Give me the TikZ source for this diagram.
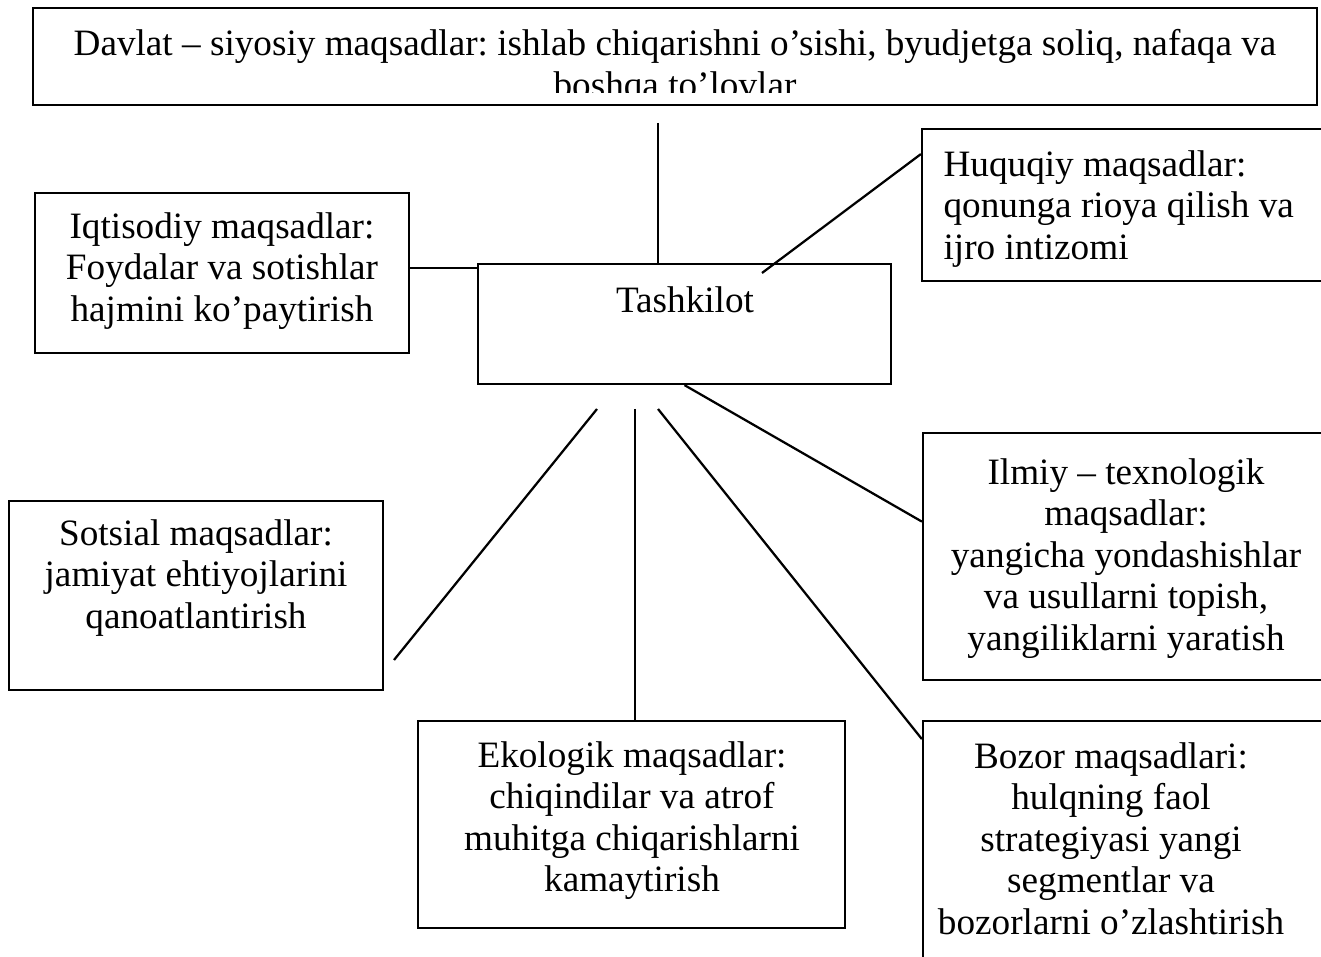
\documentclass[tikz,border=0pt]{standalone}
\usepackage{fontspec}
\setmainfont{Liberation Serif}
\usetikzlibrary{fit,calc}
\frenchspacing

\tikzset{
  goal/.style={draw, line width=0.75pt, inner sep=0pt},
  goaltext/.style={inner sep=0pt, align=center, anchor=north},
  link/.style={line width=0.75pt}
}

\begin{document}
\begin{tikzpicture}[x=0.3333pt, y=-0.3333pt, font=\fontsize{12.4}{13.8}\selectfont]
    % Page frame
    \useasboundingbox (0,0) rectangle (1321,957);
    \clip (0,0) rectangle (1321,957);

    % Boxes
    \node[goal, fit={(33,8) (1317,105)}] (davlat) {};
    \node[goal, fit={(35,193) (409,353)}] (iqt) {};
    \node[goal, fit={(922,129) (1340,281)}] (huq) {};
    \node[goal, fit={(478,264) (891,384)}] (tash) {};
    \node[goal, fit={(923,433) (1340,680)}] (ilm) {};
    \node[goal, fit={(9,501) (383,690)}] (sots) {};
    \node[goal, fit={(418,721) (845,928)}] (ekol) {};
    \node[goal, fit={(923,721) (1340,975)}] (boz) {};

    % Texts (second line of the top box is cut by its frame)
    \begin{scope}
        \clip (33,8) rectangle (1317,93);
        \node[goaltext] (davlat-t) at (675,29) {Davlat – siyosiy maqsadlar: ishlab chiqarishni o’sishi, byudjetga soliq, nafaqa va\\boshqa to’lovlar};
    \end{scope}
    \node[goaltext] (iqt-t) at (222,212) {Iqtisodiy maqsadlar:\\Foydalar va sotishlar\\hajmini ko’paytirish};
    \node[goaltext, anchor=north west, align=left] (huq-t) at (943,150) {Huquqiy maqsadlar:\\qonunga rioya qilish va\\ijro intizomi};
    \node[goaltext] (tash-t) at (685,286) {Tashkilot};
    \node[goaltext] (ilm-t) at (1126,458) {Ilmiy – texnologik\\maqsadlar:\\yangicha yondashishlar\\va usullarni topish,\\yangiliklarni yaratish};
    \node[goaltext] (sots-t) at (196,519) {Sotsial maqsadlar:\\jamiyat ehtiyojlarini\\qanoatlantirish};
    \node[goaltext] (ekol-t) at (632,741) {Ekologik maqsadlar:\\chiqindilar va atrof\\muhitga chiqarishlarni\\kamaytirish};
    \node[goaltext] (boz-t) at (1111,742) {Bozor maqsadlari:\\hulqning faol\\strategiyasi yangi\\segmentlar va\\bozorlarni o’zlashtirish};

    % Links
    \coordinate (top-end) at (658,123);
    \draw[link] (top-end) -- (top-end |- tash.north);
    \draw[link] ([yshift=1.7pt]iqt.east) -- ([yshift=1.7pt]iqt.east -| tash.west);
    \coordinate (huq-start) at (762,273);
    \draw[link] (huq-start) -- ($(huq.north west)!0.17!(huq.south west)$);
    \draw[link] (tash.south) -- ($(ilm.north west)!0.36!(ilm.south west)$);
    \coordinate (sots-start) at (597,409);
    \coordinate (sots-end) at (394,660);
    \draw[link] (sots-start) -- (sots-end);
    \coordinate (ekol-start) at (635,409);
    \draw[link] (ekol-start) -- (ekol-start |- ekol.north);
    \coordinate (boz-start) at (658,409);
    \draw[link] (boz-start) -- ($(boz.north west)!0.075!(boz.south west)$);
\end{tikzpicture}
\end{document}
